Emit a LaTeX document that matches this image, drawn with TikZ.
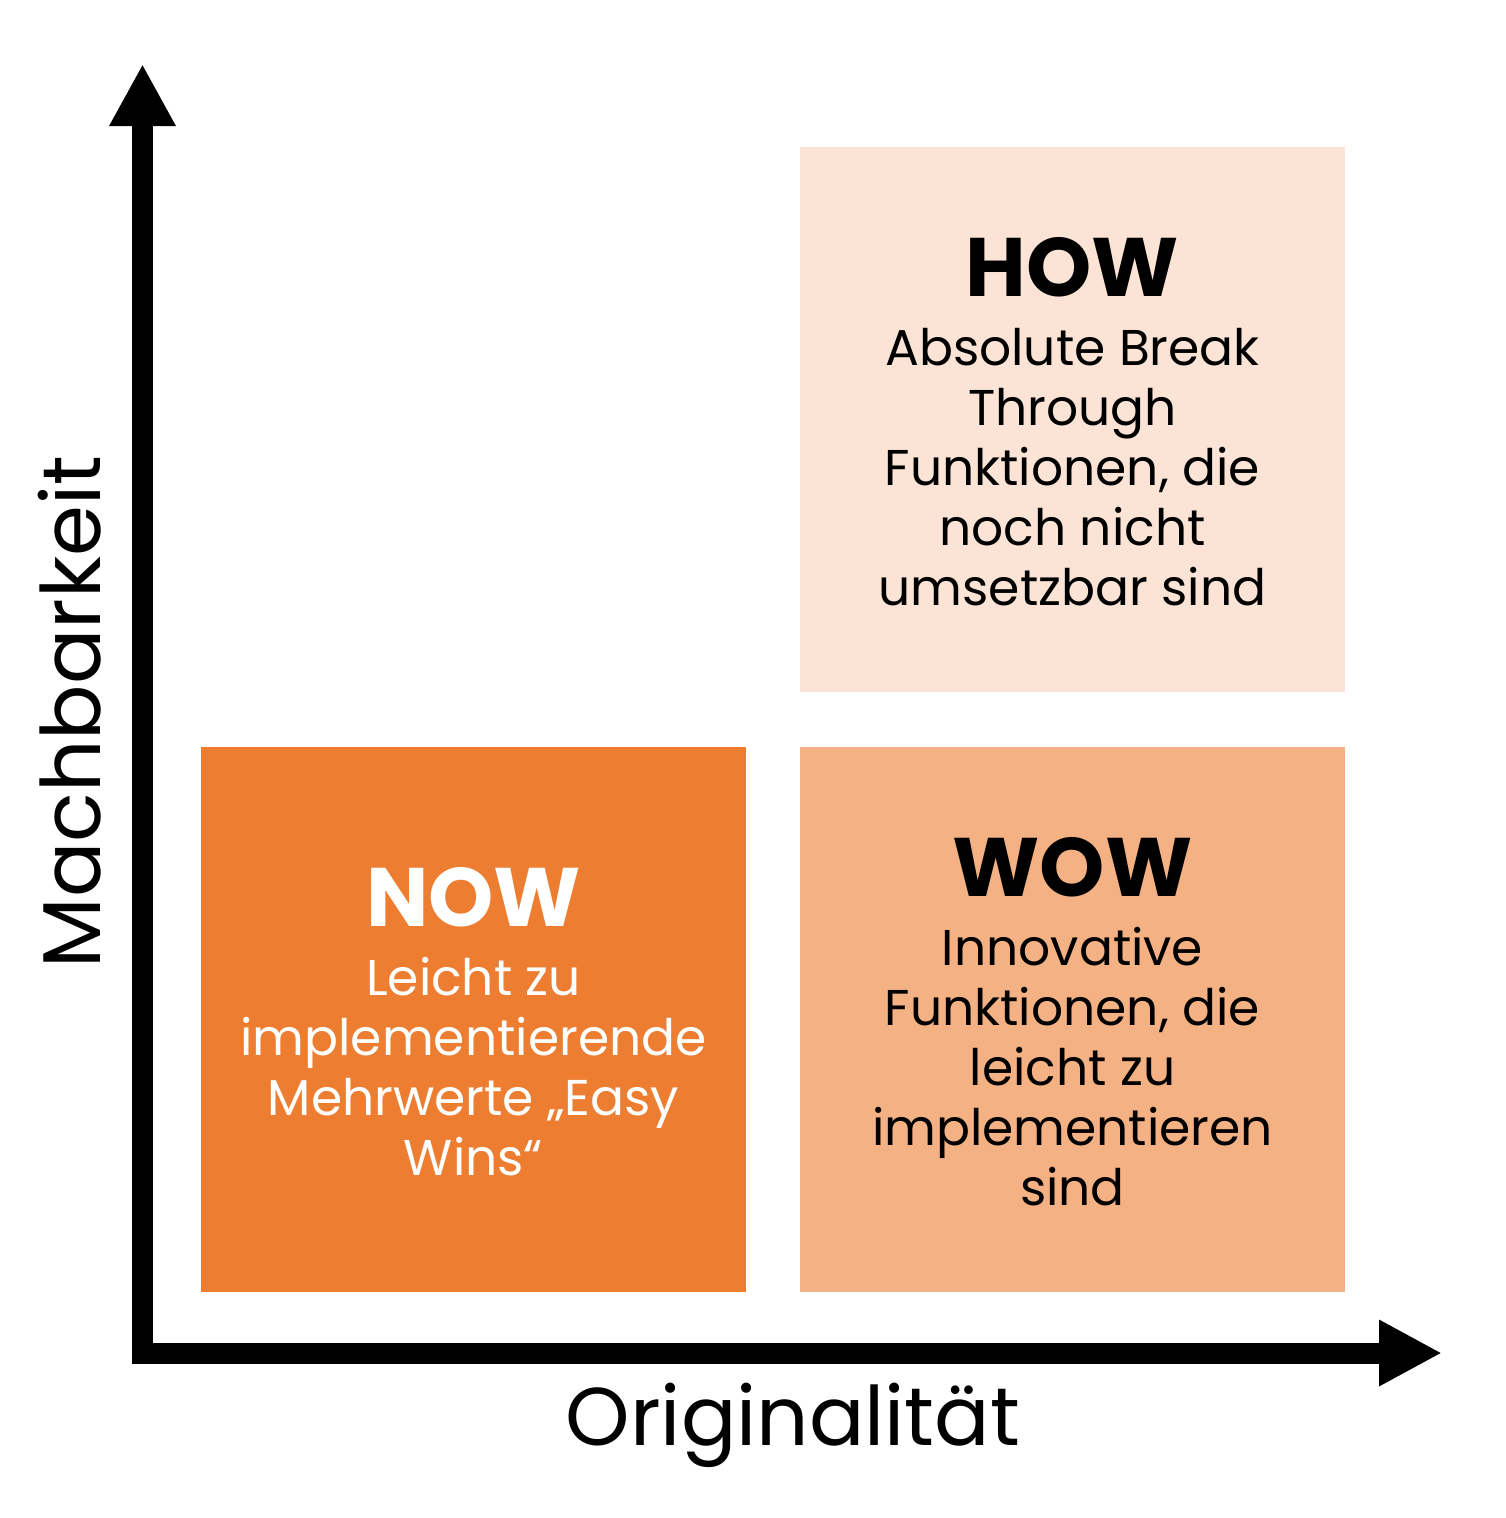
\documentclass[tikz,border=0pt]{standalone}
\usepackage{fontspec}
\setmainfont{Poppins}
\usetikzlibrary{arrows.meta}
\definecolor{nowc}{HTML}{ED7D31}
\definecolor{wowc}{HTML}{F4B183}
\definecolor{howc}{HTML}{FBE4D6}
\begin{document}
\begin{tikzpicture}[x=1pt,y=-1pt,
  quad/.style={minimum width=545pt,minimum height=545pt,inner sep=0pt,outer sep=0pt,draw=none},
  titletext/.style={font=\fontsize{83}{90}\selectfont\bfseries,anchor=base,inner sep=0pt},
  bodytext/.style={font=\fontsize{50.3}{60}\selectfont,align=center,anchor=base,inner sep=0pt},
  axislabel/.style={font=\fontsize{82}{90}\selectfont,anchor=base,inner sep=0pt},
  axisline/.style={line width=21pt,line join=miter,{Triangle[length=62pt,width=62pt]}-{Triangle[length=63pt,width=62pt]}}]
\useasboundingbox (0,0) rectangle (1506,1518);
\fill[white] (0,0) rectangle (1506,1518);
% quadrants
\node[quad,fill=howc] (how) at (1072.5,419) {};
\node[quad,fill=nowc] (now) at (473.5,1019.5) {};
\node[quad,fill=wowc] (wow) at (1072.5,1019.5) {};
% texts (body nodes anchored at the baseline of their last line)
\node[titletext] (howt) at (1072.5,296) {HOW};
\node[bodytext] (howb) at (1072.5,605) {Absolute Break\\Through\\Funktionen, die\\noch nicht\\umsetzbar sind};
\node[titletext,text=white] (nowt) at (473.5,926) {NOW};
\node[bodytext,text=white] (nowb) at (473.5,1175) {Leicht zu\\implementierende\\Mehrwerte „Easy\\Wins“};
\node[titletext] (wowt) at (1072.5,896) {WOW};
\node[bodytext] (wowb) at (1072.5,1205) {Innovative\\Funktionen, die\\leicht zu\\implementieren\\sind};
% axes
\coordinate (ytip) at (142.5,64);
\coordinate (origin) at (142.5,1353);
\coordinate (xtip) at (1442,1353);
\draw[axisline] (ytip) -- (origin) -- (xtip);
\node[axislabel,rotate=90] (ylab) at (100,712) {Machbarkeit};
\node[axislabel] (xlab) at (793,1445) {Originalität};
\end{tikzpicture}
\end{document}
